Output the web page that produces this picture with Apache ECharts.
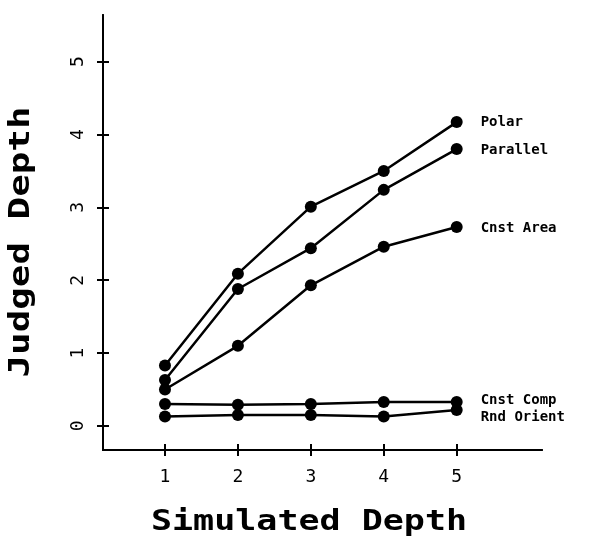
<!DOCTYPE html>
<html>
<head>
<meta charset="utf-8">
<script src="https://cdn.jsdelivr.net/npm/echarts@6/dist/echarts.min.js"></script>
<style>
html, body { margin: 0; padding: 0; background: #fff; }
#chart { width: 590px; height: 538px; }
</style>
</head>
<body>
<div id="chart"></div>
<script>
// simulated depth levels (x) and judged depth ticks (y)
var xTicks = [1, 2, 3, 4, 5];
var yTicks = [0, 1, 2, 3, 4, 5];

var seriesNames = ['Polar', 'Parallel', 'Cnst Area', 'Cnst Comp', 'Rnd Orient'];
var polar     = [0.83, 2.09, 3.01, 3.50, 4.17];
var parallel  = [0.63, 1.88, 2.44, 3.24, 3.80];
var cnstArea  = [0.50, 1.10, 1.93, 2.46, 2.73];
var cnstComp  = [0.30, 0.29, 0.30, 0.33, 0.33];
var rndOrient = [0.13, 0.15, 0.15, 0.13, 0.22];
var allValues = [polar, parallel, cnstArea, cnstComp, rndOrient];
var labelOffsets = [[0, 0], [0, 1], [0, 1], [0, -2], [0, 7]];

var mono = 'DejaVu Sans Mono';
var chart = echarts.init(document.getElementById('chart'));

var seriesData = [];
for (var i = 0; i < seriesNames.length; i++) {
	var pts = [];
	for (var k = 0; k < xTicks.length; k++) {
		pts.push([xTicks[k], allValues[i][k]]);
	}
	seriesData.push({
		name: seriesNames[i],
		type: 'line',
		xAxisIndex: 0,
		yAxisIndex: 0,
		data: pts,
		symbol: 'circle',
		symbolSize: 12,
		lineStyle: { color: '#000', width: 2.5 },
		itemStyle: { color: '#000' },
		endLabel: {
			show: true,
			formatter: '{a}',
			distance: 24,
			offset: labelOffsets[i],
			color: '#000',
			fontFamily: mono,
			fontWeight: 'bold',
			fontSize: 14
		},
		z: 5
	});
}

var gridLeft = 103, gridRight = 48, gridTop = 15, gridBottom = 88;
var xMin = 0.15, xMax = 6.17;
var yMin = -0.33, yMax = 5.64;

// the tick marks cross the axes: a second axis on the opposite side,
// pulled back onto the main axis line, draws the inner half
var option = {
	backgroundColor: '#fff',
	animation: false,
	grid: { left: gridLeft, right: gridRight, top: gridTop, bottom: gridBottom, containLabel: false },
	xAxis: [{
		type: 'value',
		position: 'bottom',
		min: xMin,
		max: xMax,
		splitLine: { show: false },
		axisLine: { onZero: false, lineStyle: { color: '#000', width: 2 } },
		axisTick: { show: true, length: 6, customValues: xTicks, lineStyle: { color: '#000', width: 2 } },
		axisLabel: {
			customValues: xTicks,
			color: '#000',
			fontFamily: mono,
			fontSize: 18,
			margin: 18
		}
	}, {
		type: 'value',
		show: true,
		position: 'top',
		offset: -(538 - gridTop - gridBottom),
		min: xMin,
		max: xMax,
		splitLine: { show: false },
		axisLine: { show: true, onZero: false, lineStyle: { color: '#000', width: 2 } },
		axisTick: { show: true, length: 6, customValues: xTicks, lineStyle: { color: '#000', width: 2 } },
		axisLabel: { show: true, customValues: xTicks, color: 'rgba(0,0,0,0)' }
	}],
	yAxis: [{
		type: 'value',
		position: 'left',
		min: yMin,
		max: yMax,
		splitLine: { show: false },
		axisLine: { show: true, onZero: false, lineStyle: { color: '#000', width: 2 } },
		axisTick: { show: true, length: 6, customValues: yTicks, lineStyle: { color: '#000', width: 2 } },
		axisLabel: {
			customValues: yTicks,
			rotate: 90,
			color: '#000',
			fontFamily: mono,
			fontSize: 18,
			margin: 16
		}
	}, {
		type: 'value',
		show: true,
		position: 'right',
		offset: -(590 - gridLeft - gridRight),
		min: yMin,
		max: yMax,
		splitLine: { show: false },
		axisLine: { show: true, onZero: false, lineStyle: { color: '#000', width: 2 } },
		axisTick: { show: true, length: 6, customValues: yTicks, lineStyle: { color: '#000', width: 2 } },
		axisLabel: { show: true, customValues: yTicks, color: 'rgba(0,0,0,0)' }
	}],
	graphic: [{
		type: 'text',
		x: 309,
		y: 523,
		scaleX: 1.25,
		style: {
			text: 'Simulated Depth',
			fill: '#000',
			font: 'bold 28px "DejaVu Sans Mono"',
			textAlign: 'center',
			textVerticalAlign: 'middle'
		}
	}, {
		type: 'text',
		x: 22,
		y: 242,
		rotation: Math.PI / 2,
		scaleX: 1.34,
		style: {
			text: 'Judged Depth',
			fill: '#000',
			font: 'bold 28px "DejaVu Sans Mono"',
			textAlign: 'center',
			textVerticalAlign: 'middle'
		}
	}],
	series: seriesData
};
chart.setOption(option);
</script>
</body>
</html>
